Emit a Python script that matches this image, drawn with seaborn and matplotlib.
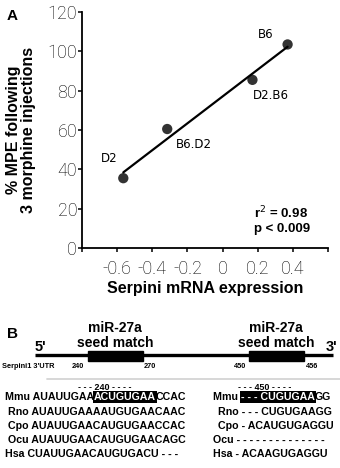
import matplotlib
matplotlib.use("Agg")
import matplotlib.pyplot as plt
import seaborn as sns
import pandas as pd

# ---------------- data ----------------
strains = ["D2", "B6.D2", "D2.B6", "B6"]
serpini_expr = [-0.565, -0.315, 0.17, 0.37]
mpe_pct = [35.5, 60.5, 85.5, 103.5]
x_ticks = [-0.8, -0.6, -0.4, -0.2, 0.0, 0.2, 0.4, 0.6]
x_tick_labels = ["", "-0.6", "-0.4", "-0.2", "0", "0.2", "0.4", ""]
y_ticks = [0, 20, 40, 60, 80, 100, 120]
stats_lines = ["r$^2$ = 0.98", "p < 0.009"]

species = ["Mmu", "Rno", "Cpo", "Ocu", "Hsa"]
site1_seqs = ["AUAUUGAAACUGUGAACCAC", "AUAUUGAAAAUGUGAACAAC", "AUAUUGAACAUGUGAACCAC",
              "AUAUUGAACAUGUGAACAGC", "CUAUUGAACAUGUGACU - - -"]
site2_seqs = ["- - - CUGUGAAGG", "- - - CUGUGAAGG", "- ACAUGUGAGGU",
              "- - - - - - - - - - - - - -", "- ACAAGUGAGGU"]
site1_hl = (8, 16)     # highlighted seed in Mmu, site 1
site2_hl = (0, 13)     # highlighted seed in Mmu, site 2
site_labels = ["240", "270", "450", "456"]
site_headers = ["- - - 240 - - - -", "- - - 450 - - - -"]
utr_name = "Serpini1 3'UTR"
mir_name = "miR-27a"

# ---------------- style ----------------
sns.set_style("ticks")
plt.rcParams["font.family"] = ["Liberation Sans", "DejaVu Sans"]
plt.rcParams["axes.unicode_minus"] = False
plt.rcParams["text.color"] = "black"
plt.rcParams["axes.labelcolor"] = "black"

fig = plt.figure(figsize=(3.4, 4.68), dpi=100)

# background axes in pixel coordinates for panel letters and panel B
axB = fig.add_axes([0, 0, 1, 1])
axB.set_xlim(0, 340)
axB.set_ylim(468, 0)
axB.axis("off")

# ---------------- panel A ----------------
ax = fig.add_axes([82 / 340, 1 - 248 / 468, 246 / 340, 236 / 468])
df = pd.DataFrame({"strain": strains, "x": serpini_expr, "y": mpe_pct})
sns.regplot(data=df, x="x", y="y", ax=ax, ci=None, color="black",
            scatter_kws=dict(s=55, edgecolor="none", zorder=3),
            line_kws=dict(lw=1.6))
ax.set_xlim(-0.8, 0.6)
ax.set_ylim(0, 120)
ax.set_xticks(x_ticks)
ax.set_xticklabels(x_tick_labels)
ax.set_yticks(y_ticks)
for lab in ax.get_xticklabels() + ax.get_yticklabels():
    lab.set_fontfamily(["Roboto", "DejaVu Sans"])
    lab.set_fontweight("light")
    lab.set_fontsize(13)
    lab.set_color("black")
ax.tick_params(axis="y", length=3, width=1.1, pad=0.5, color="black", labelcolor="black")
ax.tick_params(axis="x", length=3, width=1.1, pad=6, color="black", labelcolor="black")
for s in ["top", "right"]:
    ax.spines[s].set_visible(False)
for s in ["left", "bottom"]:
    ax.spines[s].set_linewidth(1.3)
    ax.spines[s].set_color("black")
ax.set_xlabel("Serpini mRNA expression", fontsize=11.5, fontweight="bold", labelpad=2,
              color="black")
ax.set_ylabel("% MPE following\n3 morphine injections", fontsize=11.5,
              fontweight="bold", linespacing=1.0, color="black")
ax.yaxis.set_label_coords(-0.185, 0.5)

label_offsets = {"D2": (-10, 14, "center"), "B6.D2": (6, -11, "left"),
                 "D2.B6": (0, -11, "left"), "B6": (-16, 7, "center")}
for name, xv, yv in zip(strains, serpini_expr, mpe_pct):
    dx, dy, ha = label_offsets[name]
    ax.annotate(name, (xv, yv), xytext=(dx, dy), textcoords="offset points",
                ha=ha, va="center", fontsize=8.5, family="DejaVu Sans", color="black")
ax.text(0.18, 17.8, stats_lines[0], fontsize=9.5, fontweight="bold", va="center",
        color="black")
ax.text(0.18, 9.7, stats_lines[1], fontsize=9.5, fontweight="bold", va="center",
        color="black")

axB.text(7, 16, "A", fontsize=11, fontweight="bold", va="center", ha="left")

# ---------------- panel B ----------------
axB.text(7, 334, "B", fontsize=11, fontweight="bold", va="center", ha="left")
axB.plot([35, 333], [355, 355], color="black", lw=2.4, solid_capstyle="butt")
for x0, x1 in [(88, 143), (249, 304)]:
    axB.add_patch(plt.Rectangle((x0, 351), x1 - x0, 10, color="black"))
for xc in [115, 276]:
    axB.text(xc, 328, mir_name, fontsize=10, fontweight="bold", ha="center", va="center")
    axB.text(xc, 343, "seed match", fontsize=10, fontweight="bold", ha="center", va="center")
axB.text(35, 347, "5'", fontsize=10.5, fontweight="bold", ha="left", va="center")
axB.text(326, 347, "3'", fontsize=10.5, fontweight="bold", ha="left", va="center")
axB.text(2, 366, utr_name, fontsize=5.3, fontweight="bold", ha="left", va="center")
for xc, lab in zip([78, 150, 240, 312], site_labels):
    axB.text(xc, 366, lab, fontsize=5.3, fontweight="bold", ha="center", va="center")
axB.plot([47, 340], [379, 379], color="#d4d4d4", lw=1.3)
axB.text(105, 388, site_headers[0], fontsize=6.5, fontweight="bold", ha="center", va="center")
axB.text(265, 388, site_headers[1], fontsize=6.5, fontweight="bold", ha="center", va="center")

FS = 7.7


def seq_row(x, y, parts):
    prev = None
    for txt, hl in parts:
        kw = dict(fontsize=FS, fontweight="bold", va="center", ha="left",
                  color="white" if hl else "black")
        if hl:
            kw["bbox"] = dict(boxstyle="square,pad=0.08", fc="black", ec="none")
        if prev is None:
            prev = axB.text(x, y, txt, **kw)
        else:
            prev = axB.annotate(txt, xy=(1, 0.5), xycoords=prev, **kw)


row_y = [397, 412, 426, 440, 454]
for i, (sp, s1, s2) in enumerate(zip(species, site1_seqs, site2_seqs)):
    y = row_y[i]
    if i == 0:
        a, b = site1_hl
        seq_row(5, y, [(sp + " " + s1[:a], False), (s1[a:b], True), (s1[b:], False)])
        a, b = site2_hl
        seq_row(213, y, [(sp + " ", False), (s2[a:b], True), (s2[b:], False)])
    else:
        seq_row(8 if sp != "Hsa" else 5, y, [(sp + " " + s1, False)])
        seq_row(218 if sp in ("Rno", "Cpo") else 213, y, [(sp + " " + s2, False)])

fig.savefig("out.png", dpi=100)
